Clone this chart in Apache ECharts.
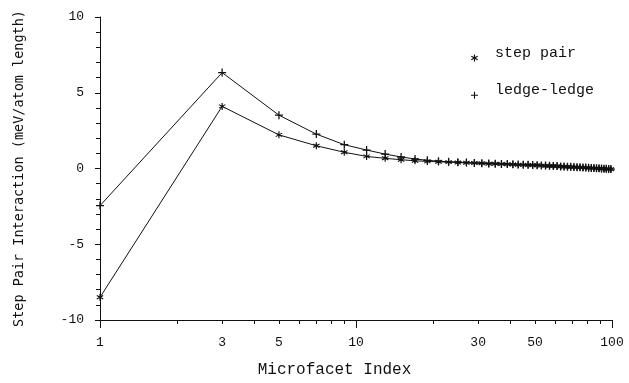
<!DOCTYPE html>
<html>
<head>
<meta charset="utf-8">
<script src="https://cdn.jsdelivr.net/npm/echarts@6/dist/echarts.min.js"></script>
<style>html,body{margin:0;padding:0;background:#fff}#c{width:629px;height:383px}</style>
</head>
<body>
<div id="c"></div>
<script>
const microfacetIndex = [1,3,5,7,9,11,13,15,17,19,21,23,25,27,29,31,33,35,37,39,41,43,45,47,49,51,53,55,57,59,61,63,65,67,69,71,73,75,77,79,81,83,85,87,89,91,93,95,97,99];
const stepPair = [-8.5,4.1,2.22,1.5,1.07,0.8,0.67,0.58,0.51,0.47,0.44,0.42,0.40,0.38,0.36,0.34,0.32,0.31,0.29,0.28,0.27,0.25,0.24,0.23,0.22,0.21,0.19,0.18,0.17,0.16,0.15,0.13,0.12,0.11,0.10,0.09,0.08,0.07,0.06,0.05,0.04,0.03,0.02,0.01,0.00,-0.01,-0.02,-0.03,-0.04,-0.05];
const ledgeLedge = [-2.45,6.33,3.52,2.27,1.57,1.22,0.95,0.76,0.63,0.54,0.48,0.44,0.42,0.39,0.37,0.35,0.33,0.32,0.30,0.29,0.28,0.26,0.25,0.24,0.23,0.22,0.20,0.19,0.18,0.17,0.16,0.14,0.13,0.12,0.11,0.10,0.09,0.08,0.07,0.06,0.05,0.04,0.03,0.02,0.01,0.00,-0.01,-0.02,-0.03,-0.04];
const xLabelValues = [1,3,5,10,30,50,100];
const xMajorTicks = [1,10,100];
const xMinorTicks = [2,3,4,5,6,7,8,9,20,30,40,50,60,70,80,90];
const seriesNames = ['step pair','ledge-ledge'];

const FONT = 'Liberation Mono';
const INK = '#111';
const asteriskShape = 'M4.2,0 L4.2,10 L5.8,10 L5.8,0 Z M0.27,3.19 L8.93,8.19 L9.73,6.81 L1.07,1.81 Z M1.07,8.19 L9.73,3.19 L8.93,1.81 L0.27,6.81 Z';
const plusShape = 'M4.2,0 L4.2,10 L5.8,10 L5.8,0 Z M0,4.2 L0,5.8 L10,5.8 L10,4.2 Z';
const asterisk = 'path://' + asteriskShape;
const plus = 'path://' + plusShape;
// legend icons: same shapes with empty room above so the mark sits below the text middle
const asteriskIcon = 'path://M5,-14 ' + asteriskShape;
const plusIcon = 'path://M5,-14 ' + plusShape;

const chart = echarts.init(document.getElementById('c'), null, {renderer:'canvas'});
const pairs = (ys) => microfacetIndex.map((x,i)=>[x, ys[i]]);
const legendText = {fontFamily: FONT, fontSize: 15, color: INK, padding:[0,0,0,12]};
chart.setOption({
  animation:false,
  backgroundColor:'#fff',
  grid:{left:100, right:17, top:17, bottom:61.5, containLabel:false},
  legend:[
    {data:[{name:seriesNames[0], icon:asteriskIcon}], left:466, top:39.6, orient:'vertical', itemWidth:7, itemHeight:16.8, symbolKeepAspect:false, textStyle:legendText, selectedMode:false},
    {data:[{name:seriesNames[1], icon:plusIcon}], left:466, top:77, orient:'vertical', itemWidth:7, itemHeight:16.8, symbolKeepAspect:false, textStyle:legendText, selectedMode:false}
  ],
  xAxis:[{
    type:'log', logBase:10, min:1, max:100, position:'bottom',
    name:'Microfacet Index', nameLocation:'middle', nameGap:42,
    nameTextStyle:{fontFamily:FONT, fontSize:16, color:INK, padding:[0,43,0,0]},
    axisLine:{show:true, onZero:false, lineStyle:{color:INK, width:1}},
    axisTick:{show:true, length:8, lineStyle:{color:INK}, customValues:xMajorTicks},
    axisLabel:{show:true, fontFamily:FONT, fontSize:13, color:INK, margin:16, customValues:xLabelValues, formatter:(v)=>String(Math.round(v))},
    splitLine:{show:false}, minorTick:{show:false}
  },{
    type:'log', logBase:10, min:1, max:100, position:'bottom', offset:0,
    axisLine:{show:false, onZero:false},
    axisTick:{show:true, length:4, lineStyle:{color:INK}, customValues:xMinorTicks},
    axisLabel:{show:false},
    splitLine:{show:false}
  }],
  yAxis:{
    type:'value', min:-10, max:10, interval:5,
    name:'Step Pair Interaction (meV/atom length)', nameLocation:'middle', nameGap:74, nameRotate:90,
    nameTextStyle:{fontFamily:'DejaVu Sans Mono', fontSize:13.5, color:INK},
    axisLine:{show:true, onZero:false, lineStyle:{color:INK, width:1}},
    axisTick:{show:true, length:5, lineStyle:{color:INK}},
    minorTick:{show:true, splitNumber:5, length:4, lineStyle:{color:INK}},
    axisLabel:{fontFamily:FONT, fontSize:13, color:INK, margin:16},
    splitLine:{show:false}, minorSplitLine:{show:false}
  },
  series:[
    {name:seriesNames[0], type:'line', xAxisIndex:0, data:pairs(stepPair), symbol:asterisk, symbolSize:7,
     lineStyle:{color:INK, width:1}, itemStyle:{color:INK}, showAllSymbol:true},
    {name:seriesNames[1], type:'line', xAxisIndex:0, data:pairs(ledgeLedge), symbol:plus, symbolSize:8,
     lineStyle:{color:INK, width:1}, itemStyle:{color:INK}, showAllSymbol:true}
  ]
});
</script>
</body>
</html>
